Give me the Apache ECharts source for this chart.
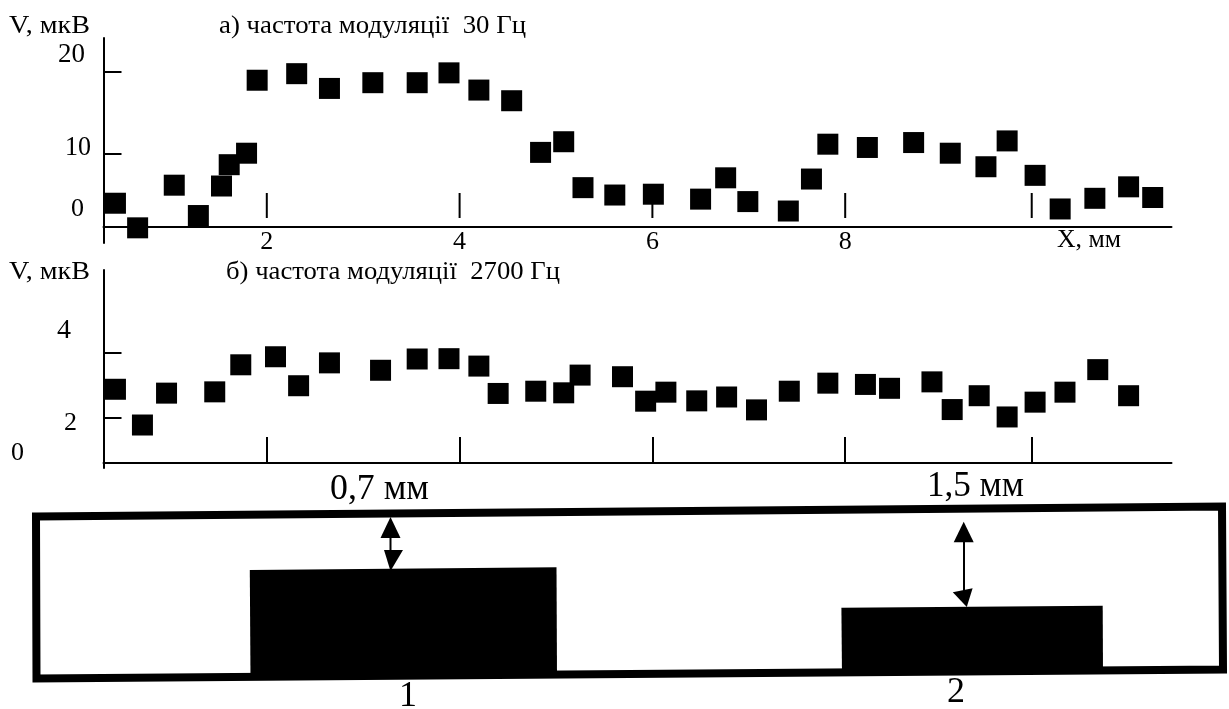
<!DOCTYPE html>
<html><head><meta charset="utf-8">
<style>html,body{margin:0;padding:0;background:#fff}#c{width:1229px;height:709px}</style>
<script src="https://cdn.jsdelivr.net/npm/echarts@6/dist/echarts.min.js"></script>
</head><body><div id="c"></div>
<script>
// X position (mm), V (µV)
const xA=[0.43,0.66,1.04,1.29,1.53,1.61,1.79,1.90,2.31,2.65,3.10,3.56,3.89,4.20,4.54,4.84,5.08,5.28,5.61,6.01,6.50,6.76,6.99,7.41,7.65,7.82,8.23,8.71,9.09,9.46,9.68,9.97,10.23,10.59,10.94,11.19];
const vA=[4.0,1.0,6.2,2.5,6.1,8.7,10.1,19.0,19.8,18.0,18.7,18.7,19.9,17.8,16.5,10.2,11.5,5.9,5.0,5.1,4.5,7.1,4.2,3.05,6.95,11.2,10.8,11.4,10.1,8.45,11.6,7.4,3.3,4.6,6.0,4.7];
const xB=[0.43,0.71,0.96,1.46,1.73,2.09,2.33,2.65,3.18,3.56,3.89,4.20,4.40,4.79,5.08,5.25,5.69,5.93,6.14,6.46,6.77,7.08,7.42,7.82,8.21,8.46,8.90,9.11,9.39,9.68,9.97,10.28,10.62,10.94];
const vB=[2.88,1.77,2.76,2.80,3.64,3.89,2.99,3.70,3.47,3.82,3.83,3.60,2.75,2.82,2.77,3.32,3.27,2.51,2.79,2.52,2.64,2.24,2.82,3.07,3.03,2.91,3.11,2.25,2.68,2.02,2.48,2.79,3.49,2.68];
const xTicks=[2,4,6,8,9.935];
const xTickLabels=[2,4,6,8];
const yTicksA=[10,20];
const yTicksB=[2,4];
const titleA='а) частота модуляції  30 Гц';
const titleB='б) частота модуляції  2700 Гц';
const yName='V, мкВ';
const xName='X, мм';

const FONT='"Liberation Serif","Times New Roman",serif';
const mc=document.createElement('canvas').getContext('2d');
function txt(s,left,right,cy,size){
  mc.font=size+'px "Liberation Serif"';
  const w=mc.measureText(s).width;
  return {type:'text',x:left,y:cy,scaleX:(right-left)/w,z:50,
    style:{text:s,font:size+'px '+FONT,fill:'#000',textAlign:'left',textVerticalAlign:'middle'}};
}
function poly(points,extra){return Object.assign({type:'polygon',z:20,shape:{points},style:{fill:'#000'}},extra||{});}
function seg(x1,y1,x2,y2,w){return {type:'line',z:21,shape:{x1,y1,x2,y2},style:{stroke:'#000',lineWidth:w}};}

const axisBase={axisLine:{lineStyle:{color:'#000',width:2}},splitLine:{show:false}};
function xAxis(i,off,ticks,labels){
  return Object.assign({},axisBase,{gridIndex:i,type:'value',min:0.306,max:11.385,offset:off,
    axisTick:ticks?{show:true,inside:true,length:26,customValues:xTicks,lineStyle:{color:'#000',width:2}}:{show:false},
    axisLabel:labels?{show:true,customValues:xTickLabels,margin:2,color:'#000',fontFamily:FONT,fontSize:26,
      formatter:v=>String(v)}:{show:false}});
}
function yAxis(i,min,max,vals){
  return Object.assign({},axisBase,{gridIndex:i,type:'value',min,max,
    axisTick:{show:true,inside:true,length:18,customValues:vals,lineStyle:{color:'#000',width:2}},
    axisLabel:{show:false}});
}
const sq={type:'scatter',symbol:'rect',symbolSize:21,clip:false,z:10,itemStyle:{color:'#000',opacity:1}};

const option={
  animation:false,backgroundColor:'#fff',
  grid:[{left:103.5,top:38,width:1068,height:205},{left:103.5,top:270,width:1068,height:198}],
  xAxis:[xAxis(0,-16,false,true),xAxis(1,-5,true,false)],
  yAxis:[yAxis(0,-0.85,24.15,yTicksA),yAxis(1,0.435,6.584,yTicksB)],
  series:[
    Object.assign({},sq,{xAxisIndex:0,yAxisIndex:0,data:xA.map((x,i)=>[x,vA[i]])}),
    Object.assign({},sq,{xAxisIndex:1,yAxisIndex:1,data:xB.map((x,i)=>[x,vB[i]])}),
    {type:'custom',xAxisIndex:0,yAxisIndex:0,silent:true,clip:false,z:5,data:xTicks.map(x=>[x]),
      encode:{x:0},
      renderItem:(p,api)=>{
        const a=api.coord([api.value(0),5.25]),b=api.coord([api.value(0),2.2]);
        return {type:'line',shape:{x1:a[0],y1:a[1],x2:b[0],y2:b[1]},style:{stroke:'#000',lineWidth:2}};
      }}
  ],
  graphic:{elements:[
    txt(yName,9,90,26,25), txt(titleA,219,526,26,25),
    txt('20',58,85,55,27), txt('10',65,91,148,27), txt('0',71,84,209,26),
    txt(xName,1057,1121,240,25),
    txt(yName,9,90,272,25), txt(titleB,226,560,272,25),
    txt('4',57,71,331,27), txt('2',64,77,423,26), txt('0',11,24,453,26),
    txt('0,7 мм',330,429,490,35), txt('1,5 мм',927,1024,487,35),
    txt('1',399,417,697,35), txt('2',947,965,693,35),
    {type:'polygon',z:20,shape:{points:[[36,516.5],[1222,506.5],[1223,669.5],[36.5,678.5]]},
      style:{fill:'none',stroke:'#000',lineWidth:8,lineJoin:'miter'}},
    poly([[249.8,570],[556.5,567.3],[557,676],[250.5,680]]),
    poly([[841.4,607.7],[1102.7,605.7],[1103,672],[842,676]]),
    seg(390.5,530,390.5,560,2),
    poly([[390.5,517],[380.5,538],[400.5,538]]),
    poly([[384,550],[403,550],[390.5,571]]),
    seg(964,535,964,600,2),
    poly([[963.7,521.7],[953.7,542.3],[973.7,542.3]]),
    poly([[952.8,592.3],[972.6,588.3],[966.8,607]])
  ]}
};
const chart=echarts.init(document.getElementById('c'),null,{renderer:'canvas'});
chart.setOption(option);
</script></body></html>
